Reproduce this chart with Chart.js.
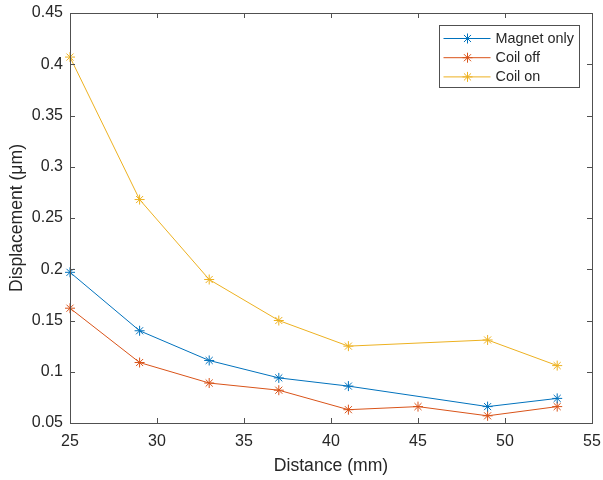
<!DOCTYPE html>
<html>
<head>
<meta charset="utf-8">
<style>
  html, body { margin: 0; padding: 0; background: #ffffff; }
  #wrap { width: 603px; height: 480px; }
</style>
<script src="https://cdn.jsdelivr.net/npm/chart.js@4.4.0/dist/chart.umd.min.js"></script>
</head>
<body>
<div id="wrap"><canvas id="c" width="603" height="480"></canvas></div>
<script>
// Measured displacement versus coil distance
const distanceMm = [25, 29, 33, 37, 41, 45, 49, 53];
const magnetOnly = [0.197, 0.140, 0.111, 0.094, 0.086, null, 0.066, 0.074];
const coilOff    = [0.162, 0.109, 0.089, 0.082, 0.063, 0.066, 0.057, 0.066];
const coilOn     = [0.407, 0.268, 0.190, 0.150, 0.125, null, 0.131, 0.106];

const seriesNames  = ['Magnet only', 'Coil off', 'Coil on'];
const seriesColors = ['#0072BD', '#D95319', '#EDB120'];

const xTickValues = [25, 30, 35, 40, 45, 50, 55];
const yTickValues = [0.05, 0.1, 0.15, 0.2, 0.25, 0.3, 0.35, 0.4, 0.45];
const yTickLabels = ['0.05', '0.1', '0.15', '0.2', '0.25', '0.3', '0.35', '0.4', '0.45'];

const FONT = "'Liberation Sans', Arial, Helvetica, sans-serif";
const INK = '#262626';
const FRAME = '#505050';
const MARK = 5;

function toPoints(values) {
  return distanceMm.map((d, i) => ({ x: d, y: values[i] }));
}

function makeSeries(i, values) {
  return {
    label: seriesNames[i],
    data: toPoints(values),
    borderColor: seriesColors[i],
    backgroundColor: seriesColors[i],
    borderWidth: 1,
    pointStyle: 'star',
    pointRadius: MARK,
    pointHoverRadius: MARK,
    pointBorderWidth: 1,
    pointBorderColor: seriesColors[i],
    spanGaps: true,
    tension: 0,
    clip: false
  };
}

// Box outline with inward tick marks on all four sides
const axesBox = {
  id: 'axesBox',
  afterDatasetsDraw(chart) {
    const { ctx, chartArea: a, scales: { x, y } } = chart;
    const len = 5;
    ctx.save();
    ctx.strokeStyle = FRAME;
    ctx.lineWidth = 1;
    ctx.strokeRect(Math.round(a.left) + 0.5, Math.round(a.top) + 0.5,
                   Math.round(a.right - a.left), Math.round(a.bottom - a.top));
    ctx.beginPath();
    xTickValues.forEach(v => {
      const px = Math.round(x.getPixelForValue(v)) + 0.5;
      ctx.moveTo(px, a.bottom); ctx.lineTo(px, a.bottom - len);
      ctx.moveTo(px, a.top);    ctx.lineTo(px, a.top + len);
    });
    yTickValues.forEach(v => {
      const py = Math.round(y.getPixelForValue(v)) + 0.5;
      ctx.moveTo(a.left, py);  ctx.lineTo(a.left + len, py);
      ctx.moveTo(a.right, py); ctx.lineTo(a.right - len, py);
    });
    ctx.stroke();
    ctx.restore();
  }
};

// Boxed legend in the upper right corner: line sample, marker, name
const boxedLegend = {
  id: 'boxedLegend',
  afterDraw(chart) {
    const { ctx, chartArea: a } = chart;
    const w = 140, h = 62;
    const left = Math.round(a.right - 13 - w) + 0.5;
    const top = Math.round(a.top + 12) + 0.5;
    ctx.save();
    ctx.fillStyle = '#ffffff';
    ctx.fillRect(left, top, w, h);
    ctx.strokeStyle = FRAME;
    ctx.lineWidth = 1;
    ctx.strokeRect(left, top, w, h);
    ctx.font = '14.4px ' + FONT;
    ctx.textBaseline = 'middle';
    ctx.textAlign = 'left';
    chart.data.datasets.forEach((ds, i) => {
      const cy = top + 13 + i * 19.2;
      ctx.strokeStyle = ds.borderColor;
      ctx.lineWidth = 1;
      ctx.beginPath();
      ctx.moveTo(left + 4, cy);
      ctx.lineTo(left + 51, cy);
      ctx.stroke();
      Chart.helpers.drawPoint(ctx, {
        pointStyle: 'star', radius: MARK, rotation: 0, borderWidth: 1
      }, left + 28, cy);
      ctx.fillStyle = INK;
      ctx.fillText(ds.label, left + 56, cy + 0.5);
    });
    ctx.restore();
  }
};

new Chart(document.getElementById('c'), {
  type: 'line',
  data: {
    datasets: [
      makeSeries(0, magnetOnly),
      makeSeries(1, coilOff),
      makeSeries(2, coilOn)
    ]
  },
  options: {
    responsive: false,
    animation: false,
    devicePixelRatio: 1,
    layout: { padding: { top: 13, right: 11, left: 0, bottom: 0 } },
    plugins: {
      legend: { display: false },
      tooltip: { enabled: false }
    },
    scales: {
      x: {
        type: 'linear',
        min: 25, max: 55,
        afterBuildTicks: s => { s.ticks = xTickValues.map(v => ({ value: v })); },
        afterFit: s => { s.height = 57; s.paddingLeft = 0; s.paddingRight = 0; },
        grid: { display: false, drawTicks: false },
        border: { display: false },
        ticks: {
          color: INK, padding: 9, maxRotation: 0,
          font: { family: FONT, size: 16 },
          callback: v => String(v)
        },
        title: {
          display: true, text: 'Distance (mm)', color: INK,
          font: { family: FONT, size: 17.6 },
          padding: { top: 0, bottom: 3 }
        }
      },
      y: {
        type: 'linear',
        min: 0.05, max: 0.45,
        afterBuildTicks: s => { s.ticks = yTickValues.map(v => ({ value: v })); },
        afterFit: s => { s.width = 70; s.paddingTop = 0; s.paddingBottom = 0; },
        grid: { display: false, drawTicks: false },
        border: { display: false },
        ticks: {
          color: INK, padding: 7,
          font: { family: FONT, size: 16 },
          callback: (v, i) => yTickLabels[i]
        },
        title: {
          display: true, text: 'Displacement (\u03bcm)', color: INK,
          font: { family: FONT, size: 17.6 },
          padding: { top: 7, bottom: 0 }
        }
      }
    }
  },
  plugins: [axesBox, boxedLegend]
});
</script>
</body>
</html>
